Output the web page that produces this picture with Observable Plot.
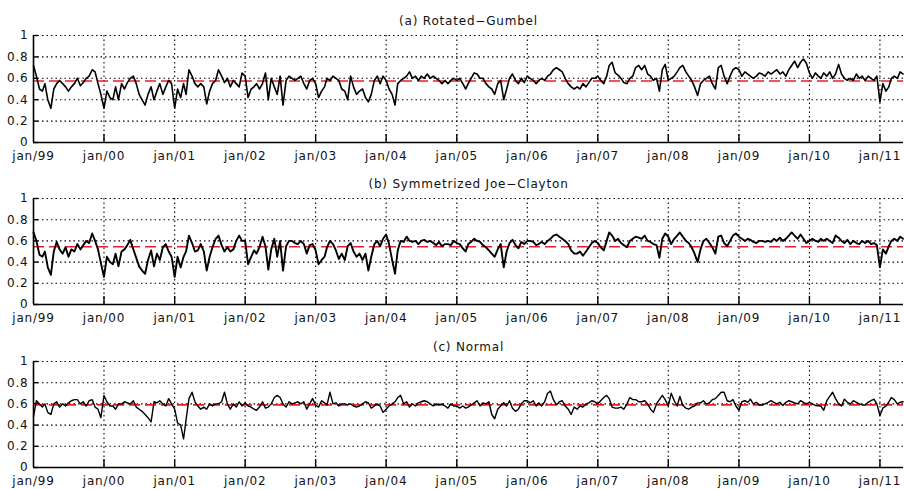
<!DOCTYPE html>
<html><head><meta charset="utf-8">
<script src="https://cdn.jsdelivr.net/npm/d3@7"></script>
<script src="https://cdn.jsdelivr.net/npm/@observablehq/plot@0.6"></script>
<style>
html,body{margin:0;padding:0;background:#fff;}
#chart{width:904px;height:489px;overflow:hidden;}
#chart svg{display:block;}
</style></head><body><div id="chart"></div>
<script>
const titles = ["(a) Rotated\u2212Gumbel", "(b) Symmetrized Joe\u2212Clayton", "(c) Normal"];
const tickYears = [1999,2000,2001,2002,2003,2004,2005,2006,2007,2008,2009,2010,2011];
const tickLabels = ["jan/99","jan/00","jan/01","jan/02","jan/03","jan/04","jan/05","jan/06","jan/07","jan/08","jan/09","jan/10","jan/11"];
const yTicks = [0,0.2,0.4,0.6,0.8,1];
const yTickLabels = ["0","0.2","0.4","0.6","0.8","1"];
const startDate = "1999-01-01";
const endDate = "2011-05-03";
// semi-monthly readings (1st and 16th of each month)
const rotGumbel = [
0.72,0.62,0.50,0.48,0.55,0.40,0.32,0.50,0.55,0.58,0.55,0.52,0.48,0.52,0.55,0.60,0.53,0.56,0.60,0.62,0.68,0.66,0.55,0.45,
0.32,0.48,0.42,0.40,0.52,0.40,0.55,0.50,0.56,0.60,0.62,0.55,0.45,0.40,0.35,0.45,0.52,0.40,0.48,0.55,0.45,0.52,0.58,0.55,
0.32,0.50,0.42,0.55,0.45,0.68,0.62,0.55,0.52,0.55,0.52,0.36,0.48,0.55,0.58,0.68,0.62,0.56,0.60,0.52,0.58,0.55,0.52,0.65,
0.62,0.42,0.50,0.52,0.55,0.50,0.55,0.65,0.40,0.60,0.52,0.45,0.62,0.35,0.58,0.62,0.60,0.58,0.60,0.62,0.55,0.50,0.58,0.60,
0.55,0.42,0.48,0.52,0.60,0.58,0.62,0.60,0.58,0.50,0.48,0.40,0.62,0.52,0.45,0.48,0.50,0.42,0.38,0.45,0.58,0.62,0.55,0.62,
0.58,0.50,0.45,0.35,0.55,0.58,0.60,0.62,0.66,0.60,0.62,0.58,0.62,0.60,0.64,0.60,0.62,0.60,0.58,0.55,0.58,0.55,0.58,0.60,
0.58,0.60,0.55,0.50,0.55,0.60,0.65,0.64,0.60,0.60,0.55,0.52,0.50,0.45,0.55,0.58,0.40,0.50,0.60,0.64,0.58,0.55,0.60,0.56,
0.62,0.60,0.58,0.55,0.58,0.60,0.58,0.62,0.64,0.68,0.70,0.68,0.66,0.60,0.55,0.52,0.50,0.52,0.50,0.55,0.52,0.56,0.60,0.60,
0.62,0.58,0.55,0.62,0.72,0.75,0.65,0.63,0.60,0.56,0.55,0.60,0.62,0.70,0.72,0.68,0.72,0.64,0.62,0.58,0.60,0.48,0.68,0.73,
0.58,0.60,0.62,0.66,0.70,0.72,0.66,0.62,0.58,0.52,0.44,0.55,0.58,0.60,0.62,0.55,0.50,0.70,0.72,0.62,0.55,0.62,0.68,0.70,
0.68,0.62,0.66,0.64,0.62,0.60,0.62,0.65,0.64,0.62,0.66,0.64,0.66,0.68,0.64,0.66,0.62,0.68,0.72,0.76,0.70,0.75,0.78,0.74,
0.65,0.60,0.65,0.62,0.60,0.65,0.62,0.66,0.60,0.64,0.73,0.64,0.60,0.58,0.60,0.58,0.64,0.60,0.62,0.58,0.62,0.60,0.58,0.62,
0.38,0.55,0.48,0.52,0.60,0.62,0.60,0.66,0.64
];
const sjc = [
0.68,0.60,0.47,0.45,0.50,0.35,0.28,0.50,0.59,0.52,0.48,0.54,0.45,0.52,0.50,0.57,0.52,0.56,0.60,0.58,0.67,0.60,0.52,0.39,
0.26,0.45,0.40,0.38,0.48,0.36,0.50,0.52,0.56,0.61,0.52,0.44,0.36,0.32,0.29,0.42,0.51,0.36,0.48,0.42,0.54,0.57,0.50,0.45,
0.26,0.45,0.35,0.45,0.50,0.65,0.58,0.50,0.51,0.57,0.50,0.32,0.45,0.54,0.62,0.65,0.56,0.50,0.54,0.50,0.52,0.60,0.65,0.60,
0.60,0.38,0.45,0.51,0.48,0.54,0.64,0.55,0.33,0.52,0.62,0.45,0.60,0.32,0.55,0.60,0.60,0.58,0.57,0.60,0.57,0.48,0.56,0.57,
0.51,0.38,0.42,0.45,0.54,0.60,0.57,0.51,0.43,0.48,0.42,0.55,0.58,0.50,0.45,0.48,0.42,0.48,0.32,0.45,0.57,0.60,0.55,0.62,
0.66,0.57,0.42,0.29,0.51,0.60,0.59,0.64,0.60,0.59,0.60,0.57,0.60,0.61,0.59,0.60,0.58,0.56,0.59,0.55,0.57,0.57,0.56,0.60,
0.58,0.57,0.53,0.50,0.57,0.59,0.62,0.60,0.59,0.56,0.54,0.51,0.48,0.45,0.52,0.57,0.35,0.50,0.58,0.61,0.56,0.53,0.59,0.57,
0.60,0.60,0.59,0.56,0.57,0.59,0.57,0.60,0.62,0.65,0.66,0.64,0.62,0.60,0.57,0.51,0.48,0.48,0.50,0.46,0.50,0.54,0.58,0.60,
0.58,0.54,0.51,0.60,0.68,0.65,0.60,0.62,0.58,0.56,0.54,0.60,0.62,0.64,0.63,0.62,0.65,0.60,0.59,0.57,0.56,0.44,0.62,0.67,
0.64,0.57,0.62,0.65,0.68,0.64,0.60,0.58,0.54,0.48,0.40,0.52,0.60,0.62,0.58,0.54,0.48,0.64,0.65,0.58,0.55,0.60,0.65,0.67,
0.64,0.62,0.60,0.62,0.61,0.59,0.58,0.60,0.60,0.59,0.60,0.59,0.62,0.60,0.63,0.60,0.62,0.65,0.68,0.65,0.62,0.66,0.62,0.58,
0.60,0.62,0.60,0.59,0.62,0.60,0.62,0.60,0.58,0.65,0.63,0.60,0.58,0.61,0.57,0.60,0.58,0.57,0.60,0.58,0.60,0.57,0.58,0.56,
0.35,0.52,0.48,0.55,0.60,0.62,0.60,0.64,0.62
];
const normal = [
0.48,0.63,0.60,0.57,0.60,0.52,0.50,0.60,0.62,0.57,0.60,0.58,0.61,0.63,0.64,0.64,0.60,0.62,0.58,0.63,0.64,0.57,0.55,0.47,
0.68,0.62,0.58,0.58,0.55,0.60,0.60,0.62,0.61,0.60,0.63,0.57,0.55,0.53,0.50,0.47,0.43,0.62,0.61,0.63,0.60,0.58,0.65,0.60,
0.55,0.42,0.40,0.27,0.45,0.65,0.71,0.62,0.58,0.55,0.57,0.55,0.60,0.58,0.60,0.60,0.62,0.71,0.60,0.55,0.60,0.57,0.62,0.58,
0.61,0.58,0.57,0.55,0.54,0.57,0.62,0.56,0.57,0.60,0.66,0.68,0.66,0.60,0.57,0.62,0.60,0.61,0.62,0.60,0.62,0.55,0.60,0.65,
0.59,0.57,0.63,0.61,0.59,0.71,0.60,0.61,0.58,0.60,0.60,0.59,0.60,0.58,0.57,0.58,0.60,0.62,0.61,0.56,0.58,0.60,0.58,0.52,
0.55,0.58,0.60,0.62,0.66,0.68,0.60,0.62,0.57,0.60,0.58,0.61,0.62,0.63,0.62,0.60,0.58,0.60,0.59,0.60,0.58,0.56,0.60,0.58,
0.58,0.56,0.58,0.56,0.57,0.59,0.61,0.63,0.58,0.61,0.60,0.62,0.50,0.46,0.55,0.58,0.61,0.58,0.63,0.56,0.53,0.55,0.60,0.63,
0.63,0.61,0.63,0.58,0.61,0.58,0.62,0.70,0.72,0.64,0.59,0.62,0.63,0.58,0.55,0.50,0.57,0.55,0.58,0.57,0.60,0.61,0.63,0.62,
0.60,0.63,0.66,0.68,0.65,0.57,0.56,0.56,0.57,0.55,0.60,0.66,0.64,0.64,0.62,0.62,0.63,0.60,0.55,0.52,0.60,0.64,0.68,0.64,
0.58,0.70,0.63,0.58,0.67,0.59,0.56,0.55,0.57,0.58,0.61,0.61,0.63,0.60,0.61,0.64,0.65,0.68,0.71,0.71,0.63,0.62,0.64,0.58,
0.54,0.62,0.63,0.615,0.645,0.60,0.615,0.59,0.59,0.60,0.615,0.63,0.615,0.60,0.615,0.585,0.615,0.63,0.62,0.61,0.60,0.63,0.615,0.60,
0.615,0.60,0.585,0.583,0.58,0.54,0.63,0.67,0.71,0.65,0.60,0.58,0.645,0.615,0.60,0.63,0.615,0.60,0.59,0.59,0.615,0.63,0.646,0.60,
0.49,0.56,0.58,0.62,0.66,0.64,0.60,0.615,0.62
];
const means = [0.575, 0.545, 0.59];
const seriesList = [rotGumbel, sjc, normal];

// layout (style only)
const W = 904;
const panelH = [167, 162, 160];
const mTop = [35, 31, 32];
const mBot = [25, 25, 22];
const mLeft = 33, mRight = 1;
const lineW = [1.6, 1.9, 1.4];

const start = new Date(startDate + "T00:00:00Z");
const end = new Date(endDate + "T00:00:00Z");
const tickDates = tickYears.map(y => new Date(Date.UTC(y, 0, 1)));
const labelByTime = new Map(tickDates.map((d, i) => [+d, tickLabels[i]]));
const yLabelBy = new Map(yTicks.map((v, i) => [v, yTickLabels[i]]));
const dateOf = i => new Date(Date.UTC(1999 + Math.floor(i / 24), Math.floor((i % 24) / 2), (i % 2) ? 16 : 1));

const chart = document.getElementById("chart");
const msPerPx = (end - start) / (W - mLeft - mRight);

seriesList.forEach((vals, p) => {
  const data = vals.map((v, i) => ({date: dateOf(i), value: v}));
  const frameH = panelH[p] - mTop[p] - mBot[p];
  const xTickLen = 8 / frameH;
  const yTickEnd = new Date(+start + 5 * msPerPx);
  const svg = Plot.plot({
    width: W,
    height: panelH[p],
    marginLeft: mLeft,
    marginRight: mRight,
    marginTop: mTop[p],
    marginBottom: mBot[p],
    style: {fontFamily: "'DejaVu Sans', sans-serif", fontSize: "12px", letterSpacing: "0.8px", color: "#111", background: "#fff", overflow: "visible"},
    x: {type: "utc", domain: [start, end], ticks: tickDates, tickFormat: d => labelByTime.get(+d), tickSize: 0, tickPadding: 9, label: null},
    y: {domain: [0, 1], ticks: yTicks, tickFormat: v => yLabelBy.get(v), tickSize: 0, tickPadding: 5, label: null},
    marks: [
      Plot.ruleY(yTicks.filter(v => v > 0), {stroke: "#000", strokeWidth: 1.1, strokeDasharray: "1.5,3"}),
      Plot.ruleX(tickDates.slice(1), {stroke: "#000", strokeWidth: 1.1, strokeDasharray: "1.5,3"}),
      Plot.ruleX(tickDates.slice(1), {y1: 0, y2: xTickLen, stroke: "#000", strokeWidth: 1.4}),
      Plot.ruleY(yTicks, {x1: start, x2: yTickEnd, stroke: "#000", strokeWidth: 1.4}),
      Plot.ruleY([means[p]], {stroke: "#ee1c25", strokeWidth: 1.7, strokeDasharray: "11,5"}),
      Plot.line(data, {x: "date", y: "value", stroke: "#000", strokeWidth: lineW[p], strokeLinejoin: "round"}),
      Plot.ruleY([0], {stroke: "#000", strokeWidth: 1.6}),
      Plot.ruleX([start], {stroke: "#000", strokeWidth: 1.6}),
      Plot.text([titles[p]], {text: d => d, frameAnchor: "top", dy: -11, lineAnchor: "bottom", fontSize: 12, fill: "#111"})
    ]
  });
  chart.appendChild(svg);
});
</script>
</body></html>
